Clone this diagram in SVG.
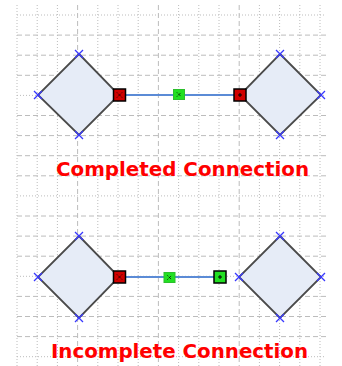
<svg xmlns="http://www.w3.org/2000/svg" width="342" height="366" viewBox="0 0 342 366">
<style>
.gd{stroke:#bcbcbc;stroke-width:1;stroke-dasharray:1,2;fill:none}
.gl{stroke:#bcbcbc;stroke-width:1;stroke-dasharray:5,3;fill:none}
.dia{fill:#e6ecf7;stroke:#4a4a4a;stroke-width:1.8}
.xm{stroke:#3838ff;stroke-width:1.3;fill:none}
.conn{stroke:#5b8bd6;stroke-width:2;fill:none}
.red{fill:#d00000;stroke:#000;stroke-width:1.5}
.grn{fill:#22e022;stroke:#000;stroke-width:1.5}
.mid{fill:#22e022;stroke:#2cbf2c;stroke-width:1}
.in{stroke:#000;stroke-width:1;fill:none}
.lbl{font-family:"DejaVu Sans",Verdana,sans-serif;font-weight:bold;font-size:20px;fill:#ff0000}
</style>
<defs>
<g id="x"><path class="xm" d="M-4,-4L4,4M-4,4L4,-4"/></g>
</defs>
<rect width="342" height="366" fill="#ffffff"/>
<g id="grid">
<path class="gd" d="M17,5V366M37.2,5V366M57.4,5V366M97.8,5V366M118,5V366M138.2,5V366M178.6,5V366M198.8,5V366M219,5V366M259.4,5V366M279.6,5V366M299.8,5V366M320,5V366"/>
<path class="gl" d="M77.6,5V366M158.4,5V366M239.2,5V366"/>
<path class="gd" d="M17,15H326M17,95.4H326M17,195.9H326M17,276.3H326M17,356.7H326"/>
<path class="gl" d="M17,35.1H326M17,55.2H326M17,75.3H326M17,115.5H326M17,135.6H326M17,155.7H326M17,175.8H326M17,216H326M17,236.1H326M17,256.2H326M17,296.4H326M17,316.5H326M17,336.6H326"/>
</g>
<g id="connectors">
<path class="conn" d="M125,95H234"/>
<path class="conn" d="M126,277H214"/>
</g>
<g id="node-top-left">
<path class="dia" d="M79,54L119,95L79,135L38,95Z"/>
<use href="#x" x="79" y="54"/>
<use href="#x" x="38" y="95"/>
<use href="#x" x="79" y="135"/>
</g>
<g id="node-top-right">
<path class="dia" d="M280,54L321,95L280,135L240,95Z"/>
<use href="#x" x="280" y="54"/>
<use href="#x" x="321" y="95"/>
<use href="#x" x="280" y="135"/>
</g>
<g id="node-bottom-left">
<path class="dia" d="M79,236L119,277L79,318L38,277Z"/>
<use href="#x" x="79" y="236"/>
<use href="#x" x="38" y="277"/>
<use href="#x" x="79" y="318"/>
</g>
<g id="node-bottom-right">
<path class="dia" d="M280,236L321,277L280,318L239,277Z"/>
<use href="#x" x="280" y="236"/>
<use href="#x" x="239" y="277"/>
<use href="#x" x="321" y="277"/>
<use href="#x" x="280" y="318"/>
</g>
<g id="handles">
<rect class="red" x="113.5" y="89" width="12" height="12"/>
<path class="in" d="M117,92.5L122,97.5M117,97.5L122,92.5" stroke-dasharray="1,1"/>
<rect class="mid" x="173.5" y="89.5" width="11" height="10"/>
<path class="in" d="M177,92.5L181,96.5M177,96.5L181,92.5" stroke="#0a600a" stroke-dasharray="1,1"/>
<rect class="red" x="234" y="89" width="12" height="12"/>
<path class="in" d="M238,95H242M240,93V97"/>
<rect class="red" x="113.5" y="271" width="12" height="12"/>
<path class="in" d="M117,274.5L122,279.5M117,279.5L122,274.5" stroke-dasharray="1,1"/>
<rect class="mid" x="164" y="272.5" width="11" height="10"/>
<path class="in" d="M167.5,275.5L171.5,279.5M167.5,279.5L171.5,275.5" stroke="#0a600a" stroke-dasharray="1,1"/>
<rect class="grn" x="214" y="271" width="12" height="12"/>
<path class="in" d="M218,277H222M220,275V279"/>
</g>
<g id="labels">
<text class="lbl" x="56" y="176" textLength="253" lengthAdjust="spacingAndGlyphs">Completed Connection</text>
<text class="lbl" x="51" y="358" textLength="257" lengthAdjust="spacingAndGlyphs">Incomplete Connection</text>
</g>
</svg>
